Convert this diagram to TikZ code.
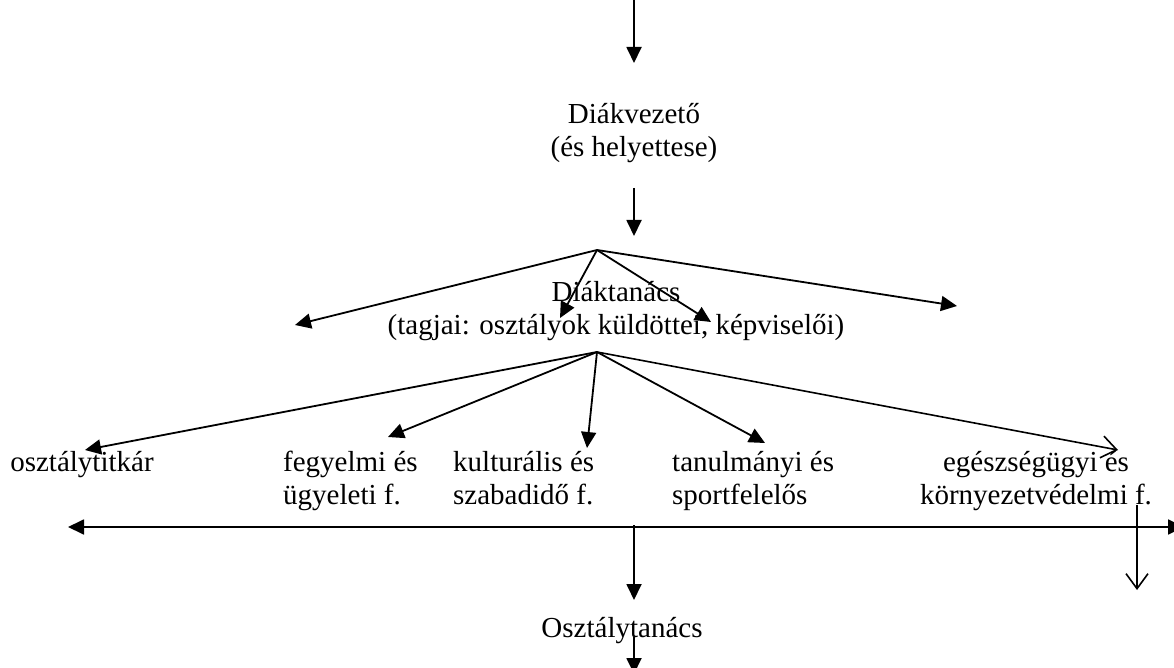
\documentclass[tikz,border=0pt]{standalone}
\usepackage{fontspec}
\setmainfont{Liberation Serif}
\usetikzlibrary{arrows.meta}
\begin{document}
\begin{tikzpicture}[x=1pt,y=-1pt,
  lbl/.style={inner sep=0pt, font=\fontsize{29}{33}\selectfont},
  arr/.style={line width=1.8pt, -{Triangle[length=16pt,width=15pt]}},
  darr/.style={line width=1.8pt, {Triangle[length=16pt,width=15pt]}-{Triangle[length=16pt,width=15pt]}},
  oarr/.style={line width=1.6pt, -{Straight Barb[length=15pt,width=22pt,line width=1.6pt]}}
]
\useasboundingbox (0,0) rectangle (1174,668);
% nodes
\node[lbl, align=center] (dv) at (634,133) {\strut Diákvezető\\(és helyettese)\strut};
\node[lbl, align=center] (dt) at (616,311) {\strut Diáktanács\\(tagjai: osztályok küldöttei, képviselői)\strut};
\node[lbl] (ot1) at (82,465) {osztálytitkár};
\node[lbl, align=left, anchor=west] (fe) at (283,481) {\strut fegyelmi és\\ügyeleti f.\strut};
\node[lbl, align=left, anchor=west] (ku) at (453,481) {\strut kulturális és\\szabadidő f.\strut};
\node[lbl, align=left, anchor=west] (ta) at (672,481) {\strut tanulmányi és\\sportfelelős\strut};
\node[lbl, align=center] (eg) at (1036,481) {\strut egészségügyi és\\környezetvédelmi f.\strut};
\node[lbl] (ot) at (622,631) {Osztálytanács};
% coordinates
\coordinate (top) at (634,-2);
\coordinate (t0) at (634,63);
\coordinate (a1) at (634,188);
\coordinate (b1) at (634,236);
\coordinate (h1) at (597,250);
\coordinate (p1) at (295,325);
\coordinate (p2) at (560,318);
\coordinate (p3) at (711,322);
\coordinate (p4) at (957,306);
\coordinate (h2) at (597,352);
\coordinate (q1) at (85,450);
\coordinate (q2) at (388,437);
\coordinate (q3) at (587,448);
\coordinate (q4) at (765,443);
\coordinate (q5) at (1118,450);
\coordinate (hl) at (68,527);
\coordinate (hr) at (1184,527);
\coordinate (m1) at (634,525);
\coordinate (m2) at (634,600);
\coordinate (m3) at (634,637);
\coordinate (m4) at (634,674);
\coordinate (r1) at (1137,505);
\coordinate (r2) at (1137,590);
% connectors
\draw[arr] (top) -- (t0);
\draw[arr] (a1) -- (b1);
\draw[arr] (h1) -- (p1);
\draw[arr] (h1) -- (p2);
\draw[arr] (h1) -- (p3);
\draw[arr] (h1) -- (p4);
\draw[arr] (h2) -- (q1);
\draw[arr] (h2) -- (q2);
\draw[arr] (h2) -- (q3);
\draw[arr] (h2) -- (q4);
\draw[oarr] (h2) -- (q5);
\draw[darr] (hl) -- (hr);
\draw[arr] (m1) -- (m2);
\draw[arr] (m3) -- (m4);
\draw[oarr] (r1) -- (r2);
\end{tikzpicture}
\end{document}
